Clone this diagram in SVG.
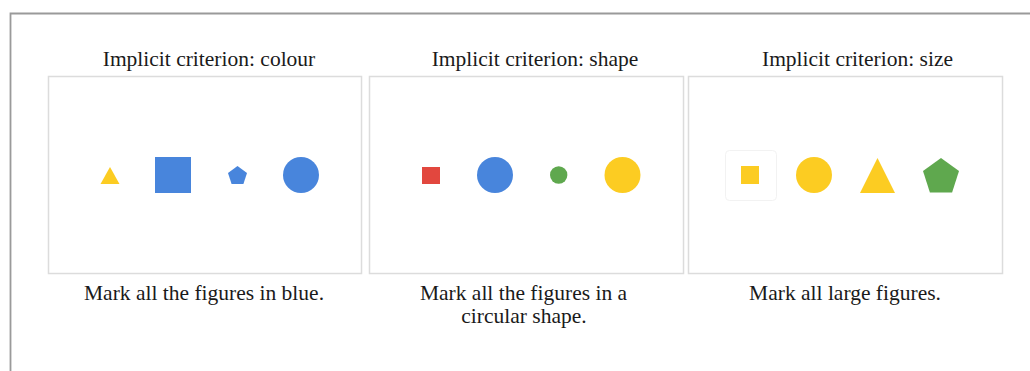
<svg xmlns="http://www.w3.org/2000/svg" width="1030" height="371" viewBox="0 0 1030 371">
<style>
.t{font-family:"Liberation Serif","Times New Roman",serif;font-size:21.5px;fill:#1a1a1a;text-anchor:middle}
.panel{fill:#fff;stroke:#dcdcdc;stroke-width:1.5}
.blue{fill:#4885dc}
.yellow{fill:#fccc22}
.green{fill:#5fa84e}
.red{fill:#e2473e}
</style>
<rect x="0" y="0" width="1030" height="371" fill="#fff"/>
<path d="M10.5 380 V13.5 H1040" fill="none" stroke="#9a9a9a" stroke-width="1.8"/>
<g id="panel-colour">
<text class="t" x="209" y="66">Implicit criterion: colour</text>
<rect class="panel" x="48.5" y="76.5" width="313" height="197"/>
<polygon class="yellow" points="110,167 119.5,184 100.5,184"/>
<rect class="blue" x="155" y="157" width="36" height="36"/>
<polygon class="blue" points="237.5,166 247,172.9 243.4,184 231.6,184 228,172.9"/>
<circle class="blue" cx="301" cy="175" r="18"/>
<text class="t" x="204" y="300">Mark all the figures in blue.</text>
</g>
<g id="panel-shape">
<text class="t" x="535" y="66">Implicit criterion: shape</text>
<rect class="panel" x="369.5" y="76.5" width="314" height="197"/>
<rect class="red" x="422" y="167" width="18" height="17"/>
<circle class="blue" cx="495" cy="175" r="18"/>
<circle class="green" cx="558.7" cy="175" r="8.7"/>
<circle class="yellow" cx="622.5" cy="175" r="18"/>
<text class="t" x="523.5" y="300">Mark all the figures in a</text>
<text class="t" x="524" y="323">circular shape.</text>
</g>
<g id="panel-size">
<text class="t" x="857.5" y="66">Implicit criterion: size</text>
<rect class="panel" x="688.5" y="76.5" width="314" height="197"/>
<rect x="725.5" y="150.5" width="51" height="50" rx="4" fill="none" stroke="#f2f2f2" stroke-width="1"/>
<rect class="yellow" x="741" y="166" width="18" height="18"/>
<circle class="yellow" cx="814" cy="175" r="18"/>
<polygon class="yellow" points="877.5,158 895,193 860,193"/>
<polygon class="green" points="941,158 959,171 952.1,192.5 929.9,192.5 923,171"/>
<text class="t" x="845" y="300">Mark all large figures.</text>
</g>
<g id="connectors"/>
</svg>
